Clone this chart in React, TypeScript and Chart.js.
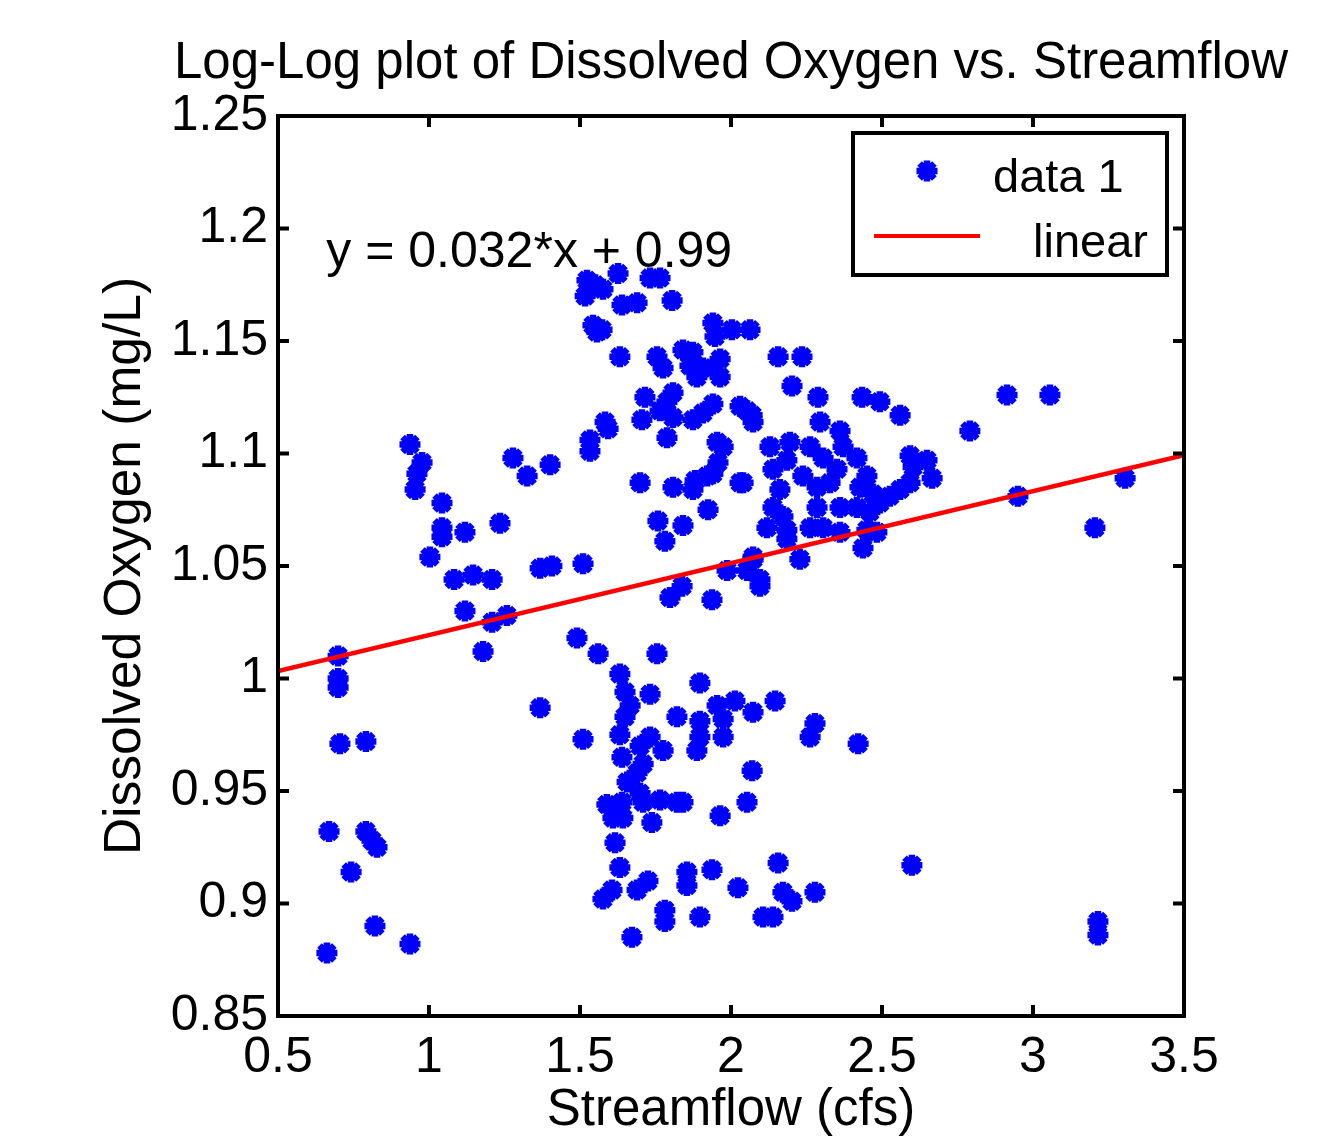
import React, { useEffect, useRef } from "react";
import { Chart, registerables } from "chart.js";

Chart.register(...registerables);

const chartTitle = "Log-Log plot of Dissolved Oxygen vs. Streamflow";
const xAxisTitle = "Streamflow (cfs)";
const yAxisTitle = "Dissolved Oxygen (mg/L)";
const equationText = "y = 0.032*x + 0.99";
const seriesLabels = ["data 1", "linear"];

const xTickValues = [0.5, 1, 1.5, 2, 2.5, 3, 3.5];
const yTickValues = [0.85, 0.9, 0.95, 1, 1.05, 1.1, 1.15, 1.2, 1.25];

const streamflow = [
  0.662, 0.669, 0.699, 0.699, 0.699, 0.705, 0.791, 0.791, 0.811, 0.828, 0.742, 0.821, 0.937, 0.937, 0.977, 0.96, 0.954, 1.043, 1.043, 1.043,
  1.119, 1.235, 1.278, 1.325, 1.401, 1.003, 1.083, 1.146, 1.209, 1.119, 1.209, 1.258, 1.179, 1.368, 1.407, 1.51, 1.49, 1.56, 1.368, 1.51,
  1.523, 1.517, 1.576, 1.626, 1.55, 1.732, 1.765, 1.639, 1.689, 1.805, 1.543, 1.556, 1.573, 1.632, 1.533, 1.533, 1.583, 1.593,
  1.94, 2.003, 2.063, 1.947, 2.156, 2.235, 2.202, 2.288, 2.434, 2.493, 2.56, 1.755, 1.775, 1.841, 1.874, 1.864, 1.887, 1.94, 1.964, 1.964,
  1.907, 1.715, 1.808, 1.788, 1.765, 1.808, 1.705, 1.874, 1.94, 1.907, 2.03, 2.07, 2.073, 1.788, 1.954, 1.974, 1.957, 1.94, 1.921, 1.881,
  1.874, 1.699, 1.808, 2.03, 1.924, 1.758, 1.841, 1.781,
  2.129, 2.195, 2.262, 2.185, 2.305, 2.417, 2.139, 2.238, 2.351, 2.45, 2.285, 2.328, 2.427, 2.47, 2.162, 2.139, 2.285, 2.361, 2.417, 2.119,
  2.172, 2.185, 2.185, 2.262, 2.305, 2.361, 2.45, 2.483, 2.437, 2.228, 2.073, 2.04, 2.295, 2.361, 2.371, 2.053, 2.593, 2.649, 2.603, 2.666,
  2.593, 2.56, 2.526, 2.493, 2.46, 2.791, 2.914, 3.056, 2.95, 3.305, 3.205,
  1.798, 1.838, 1.937, 1.987, 2.053, 2.096, 2.096, 2.073, 1.755, 1.632, 1.649, 1.666, 1.649, 1.732, 1.897, 1.954, 2.013, 2.073, 2.146, 1.974,
  1.821, 1.897, 1.897, 1.887, 1.974, 2.278, 2.262, 2.421, 1.632, 1.639, 1.699, 1.732, 1.775, 1.709, 1.689, 1.656, 1.699, 1.589, 1.639, 1.709,
  1.765, 1.821, 1.841, 1.609, 1.642, 1.738, 2.07, 2.053, 1.964, 1.616, 1.632, 1.606, 1.576, 1.689, 1.725, 1.854, 1.854, 1.937, 2.023, 2.156,
  2.172, 2.202, 2.278, 1.781, 1.781, 1.897, 2.106, 2.139, 1.672, 2.599, 3.215, 3.215,
];

const dissolvedOxygen = [
  0.878, 0.932, 1.01, 1.0, 0.996, 0.971, 0.972, 0.932, 0.928, 0.925, 0.914, 0.89, 0.882, 1.104, 1.096, 1.091, 1.084, 1.078, 1.067, 1.063,
  1.065, 1.069, 1.098, 1.09, 1.095, 1.054, 1.044, 1.046, 1.044, 1.03, 1.025, 1.028, 1.012, 1.049, 1.05, 1.051, 1.018, 1.011, 0.987, 0.973,
  1.177, 1.17, 1.173, 1.18, 1.175, 1.178, 1.178, 1.166, 1.167, 1.168, 1.157, 1.154, 1.155, 1.143, 1.106, 1.101, 1.114, 1.111,
  1.158, 1.155, 1.155, 1.152, 1.143, 1.143, 1.13, 1.125, 1.125, 1.123, 1.117, 1.143, 1.138, 1.146, 1.145, 1.139, 1.134, 1.138, 1.142, 1.134,
  1.138, 1.125, 1.127, 1.123, 1.119, 1.116, 1.115, 1.115, 1.122, 1.118, 1.121, 1.117, 1.114, 1.107, 1.105, 1.103, 1.096, 1.091, 1.09, 1.088,
  1.084, 1.087, 1.085, 1.087, 1.075, 1.07, 1.068, 1.061,
  1.103, 1.105, 1.103, 1.097, 1.098, 1.098, 1.093, 1.09, 1.093, 1.09, 1.085, 1.087, 1.085, 1.082, 1.084, 1.076, 1.076, 1.076, 1.076, 1.067,
  1.072, 1.066, 1.062, 1.067, 1.067, 1.065, 1.066, 1.065, 1.058, 1.053, 1.054, 1.087, 1.114, 1.11, 1.103, 1.119, 1.099, 1.097, 1.094, 1.089,
  1.087, 1.084, 1.081, 1.078, 1.074, 1.11, 1.126, 1.126, 1.081, 1.089, 1.067,
  1.036, 1.041, 1.035, 1.048, 1.048, 1.044, 1.041, 1.053, 1.011, 1.002, 0.994, 0.988, 0.983, 0.993, 0.998, 0.988, 0.99, 0.985, 0.99, 0.982,
  0.983, 0.981, 0.974, 0.968, 0.974, 0.98, 0.974, 0.971, 0.975, 0.965, 0.97, 0.974, 0.968, 0.962, 0.958, 0.954, 0.949, 0.944, 0.945, 0.945,
  0.946, 0.945, 0.945, 0.938, 0.938, 0.936, 0.959, 0.945, 0.939, 0.927, 0.916, 0.906, 0.902, 0.906, 0.91, 0.914, 0.908, 0.915, 0.907, 0.918,
  0.905, 0.901, 0.905, 0.897, 0.892, 0.894, 0.894, 0.894, 0.885, 0.917, 0.892, 0.886,
];

const fitLineX = [0.5, 3.5];
const fitLineY = [1.0033, 1.0993];

const FONT = "'Liberation Sans', Arial, Helvetica, sans-serif";
const BLUE = "#0000ff";
const RED = "#ff0000";

function drawStar(ctx: CanvasRenderingContext2D, cx: number, cy: number, r: number, lw: number) {
  const d = r * Math.SQRT1_2;
  ctx.save();
  ctx.strokeStyle = BLUE;
  ctx.lineWidth = lw;
  ctx.beginPath();
  ctx.moveTo(cx - r, cy);
  ctx.lineTo(cx + r, cy);
  ctx.moveTo(cx, cy - r);
  ctx.lineTo(cx, cy + r);
  ctx.moveTo(cx - d, cy - d);
  ctx.lineTo(cx + d, cy + d);
  ctx.moveTo(cx - d, cy + d);
  ctx.lineTo(cx + d, cy - d);
  ctx.stroke();
  ctx.restore();
}

const decorPlugin = {
  id: "decor",
  afterDraw(chart: any) {
    const { ctx, chartArea, scales } = chart;
    const { left, right, top, bottom } = chartArea;
    const xs = scales.x;
    const ys = scales.y;
    ctx.save();
    // frame + inward ticks
    ctx.strokeStyle = "#000";
    ctx.lineWidth = 4;
    ctx.strokeRect(left, top, right - left, bottom - top);
    const tl = 11;
    ctx.beginPath();
    xTickValues.forEach((v) => {
      const px = xs.getPixelForValue(v);
      ctx.moveTo(px, bottom);
      ctx.lineTo(px, bottom - tl);
      ctx.moveTo(px, top);
      ctx.lineTo(px, top + tl);
    });
    yTickValues.forEach((v) => {
      const py = ys.getPixelForValue(v);
      ctx.moveTo(left, py);
      ctx.lineTo(left + tl, py);
      ctx.moveTo(right, py);
      ctx.lineTo(right - tl, py);
    });
    ctx.stroke();

    // title
    ctx.fillStyle = "#000";
    ctx.font = `51px ${FONT}`;
    ctx.textAlign = "center";
    ctx.textBaseline = "alphabetic";
    ctx.fillText(chartTitle, (left + right) / 2, 78);

    // equation
    ctx.font = `50px ${FONT}`;
    ctx.textAlign = "left";
    ctx.fillText(equationText, xs.getPixelForValue(0.66), ys.getPixelForValue(1.183));

    // legend
    const lx = 853, ly = 133, lw = 314, lh = 142;
    ctx.fillStyle = "#fff";
    ctx.fillRect(lx, ly, lw, lh);
    ctx.strokeStyle = "#000";
    ctx.lineWidth = 4;
    ctx.strokeRect(lx, ly, lw, lh);
    drawStar(ctx, 927, 171, 10.5, 6.5);
    ctx.strokeStyle = RED;
    ctx.lineWidth = 4;
    ctx.beginPath();
    ctx.moveTo(874, 236);
    ctx.lineTo(980, 236);
    ctx.stroke();
    ctx.fillStyle = "#000";
    ctx.font = `47px ${FONT}`;
    ctx.textAlign = "left";
    ctx.fillText(seriesLabels[0], 993, 192);
    ctx.fillText(seriesLabels[1], 1033, 257);
    ctx.restore();
  },
};

export default function App() {
  const ref = useRef<HTMLCanvasElement | null>(null);
  useEffect(() => {
    const canvas = ref.current;
    if (!canvas) return;
    Chart.defaults.font.family = FONT;
    Chart.defaults.color = "#000";
    const points = streamflow.map((x, i) => ({ x, y: dissolvedOxygen[i] }));
    const fit = fitLineX.map((x, i) => ({ x, y: fitLineY[i] }));
    const fmt = (v: number) => String(Number(Number(v).toFixed(2)));
    const chart = new Chart(canvas, {
      type: "scatter",
      data: {
        datasets: [
          {
            label: seriesLabels[1],
            data: fit,
            showLine: true,
            borderColor: RED,
            backgroundColor: RED,
            borderWidth: 4.5,
            pointRadius: 0,
            order: 0,
          } as any,
          {
            label: seriesLabels[0],
            data: points,
            pointStyle: "star",
            pointRadius: 10.5,
            borderWidth: 6.5,
            borderColor: BLUE,
            backgroundColor: BLUE,
            order: 1,
          } as any,
        ],
      },
      options: {
        animation: false,
        responsive: false,
        maintainAspectRatio: false,
        devicePixelRatio: 1,
        events: [],
        layout: { padding: { top: 116, right: 134, left: 0, bottom: 0 } },
        plugins: { legend: { display: false }, title: { display: false }, tooltip: { enabled: false } },
        scales: {
          x: {
            type: "linear",
            min: 0.5,
            max: 3.5,
            grid: { display: false, drawTicks: false },
            border: { display: false },
            afterFit: (s: any) => { s.height = 120; },
            afterBuildTicks: (s: any) => { s.ticks = xTickValues.map((v) => ({ value: v })); },
            ticks: { font: { size: 50 }, padding: 12, color: "#000", maxRotation: 0, autoSkip: false, callback: (v: any) => fmt(v) },
            title: { display: true, text: xAxisTitle, font: { size: 51, lineHeight: 1 }, padding: { top: 0, bottom: 0 }, color: "#000" },
          },
          y: {
            type: "linear",
            min: 0.85,
            max: 1.25,
            grid: { display: false, drawTicks: false },
            border: { display: false },
            afterFit: (s: any) => { s.width = 278; },
            afterBuildTicks: (s: any) => { s.ticks = yTickValues.map((v) => ({ value: v })); },
            ticks: { font: { size: 50 }, padding: 10, color: "#000", autoSkip: false, callback: (v: any) => fmt(v) },
            title: { display: true, text: yAxisTitle, font: { size: 51.5, lineHeight: 1 }, padding: { top: 100, bottom: 0 }, color: "#000" },
          },
        },
      },
      plugins: [decorPlugin],
    });
    return () => chart.destroy();
  }, []);
  return (
    <canvas
      ref={ref}
      width={1318}
      height={1136}
      style={{ position: "fixed", left: 0, top: 0, width: 1318, height: 1136, display: "block", background: "#fff" }}
    />
  );
}
